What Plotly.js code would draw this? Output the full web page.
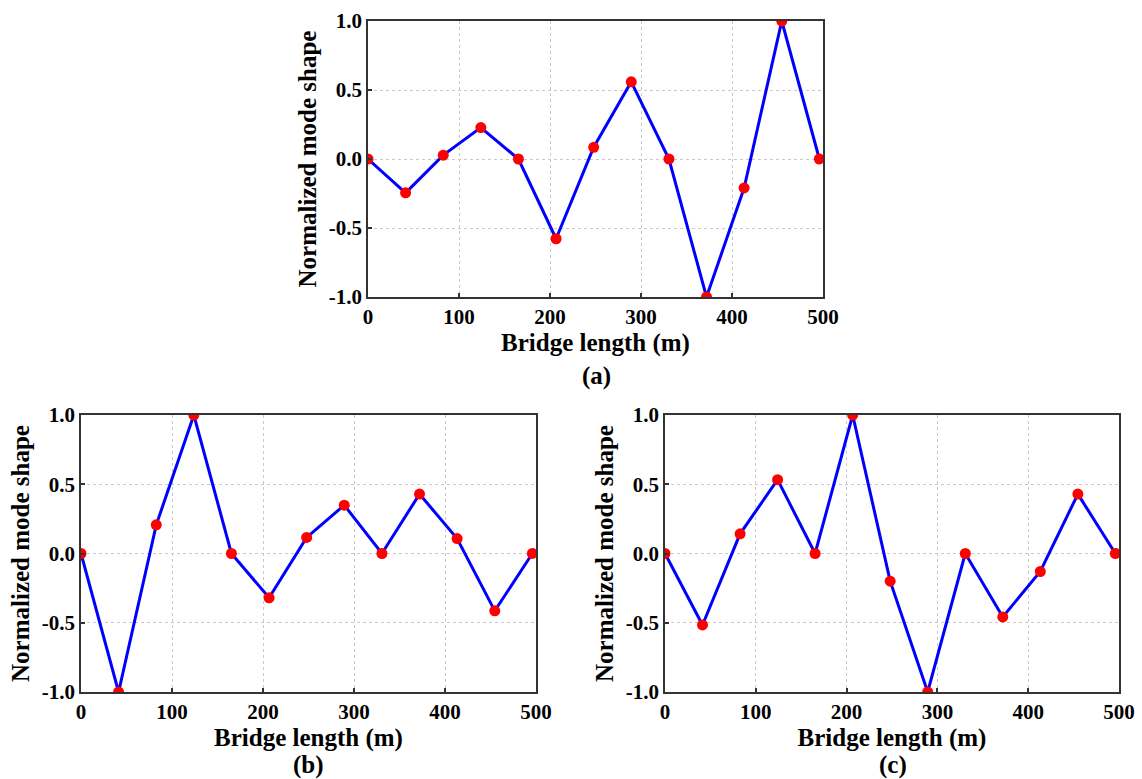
<!DOCTYPE html>
<html>
<head>
<meta charset="utf-8">
<script src="https://cdn.plot.ly/plotly-3.0.1.min.js"></script>
<style>html,body{margin:0;padding:0;background:#fff;}#chart{width:1142px;height:779px;}</style>
</head>
<body>
<div id="chart"></div>
<script>
// Node positions along the bridge (m)
const bridgeX = [0, 41.3, 82.7, 124, 165.3, 206.7, 248, 289.3, 330.7, 372, 413.3, 454.7, 496];
// Normalized mode shapes
const modeA = [0, -0.245, 0.028, 0.228, 0, -0.578, 0.085, 0.559, 0, -1.0, -0.21, 1.0, 0];
const modeB = [0, -1.0, 0.207, 1.0, 0, -0.32, 0.116, 0.349, 0, 0.429, 0.108, -0.414, 0];
const modeC = [0, -0.516, 0.142, 0.533, 0, 1.0, -0.2, -1.0, 0, -0.458, -0.13, 0.429, 0];
const panelLabels = ['(a)', '(b)', '(c)'];
const xTickVals = [0, 100, 200, 300, 400, 500];
const yTickVals = [-1.0, -0.5, 0.0, 0.5, 1.0];
const yTickText = ['-1.0', '-0.5', '0.0', '0.5', '1.0'];
const xTitle = 'Bridge length (m)';
const yTitle = 'Normalized mode shape';

const W = 1142, H = 779;
const FONT = 'Liberation Serif, Times New Roman, serif';

function trace(y, xa, ya) {
  return {
    x: bridgeX, y: y, xaxis: xa, yaxis: ya,
    type: 'scatter', mode: 'lines+markers',
    line: {color: '#0000ff', width: 3},
    marker: {color: '#ff0000', size: 11},
    hoverinfo: 'x+y', showlegend: false
  };
}

function xAxis(l, r, anchor) {
  return {
    domain: [l / W, r / W], anchor: anchor, range: [0, 500],
    tickvals: xTickVals, ticks: 'inside', ticklen: 4, tickwidth: 1.5, tickcolor: '#333',
    showline: true, linecolor: '#333', linewidth: 1.5, mirror: true,
    showgrid: true, gridcolor: '#c8c8c8', griddash: 'dot', gridwidth: 1,
    zeroline: false, fixedrange: true,
    tickfont: {family: FONT, size: 21, color: '#000', weight: 'bold'},
    title: {text: '<b>' + xTitle + '</b>', standoff: 5, font: {family: FONT, size: 25, color: '#000'}}
  };
}
function yAxis(t, b, anchor) {
  return {
    domain: [1 - b / H, 1 - t / H], anchor: anchor, range: [-1, 1],
    tickvals: yTickVals, ticktext: yTickText, ticks: 'inside', ticklen: 4, tickwidth: 1.5, tickcolor: '#333',
    showline: true, linecolor: '#333', linewidth: 1.5, mirror: true,
    showgrid: true, gridcolor: '#c8c8c8', griddash: 'dot', gridwidth: 1,
    zeroline: false, fixedrange: true,
    tickfont: {family: FONT, size: 21, color: '#000', weight: 'bold'},
    title: {text: '<b>' + yTitle + '</b>', standoff: 5, font: {family: FONT, size: 25, color: '#000'}}
  };
}

const data = [trace(modeA, 'x', 'y'), trace(modeB, 'x2', 'y2'), trace(modeC, 'x3', 'y3')];

function panelLabel(i, px, py) {
  return {text: '<b>' + panelLabels[i] + '</b>', x: px / W, y: 1 - py / H, xref: 'paper', yref: 'paper',
    xanchor: 'center', yanchor: 'middle', showarrow: false, font: {family: FONT, size: 25, color: '#000'}};
}

const layout = {
  width: W, height: H,
  margin: {l: 0, r: 0, t: 0, b: 0},
  paper_bgcolor: '#fff', plot_bgcolor: '#fff',
  xaxis: xAxis(368, 823, 'y'),
  yaxis: yAxis(21, 297, 'x'),
  xaxis2: xAxis(81, 536, 'y2'),
  yaxis2: yAxis(415, 692, 'x2'),
  xaxis3: xAxis(665, 1119, 'y3'),
  yaxis3: yAxis(415, 692, 'x3'),
  annotations: [panelLabel(0, 596, 376), panelLabel(1, 308, 765), panelLabel(2, 893, 765)]
};

Plotly.newPlot('chart', data, layout, {displayModeBar: false});
</script>
</body>
</html>
